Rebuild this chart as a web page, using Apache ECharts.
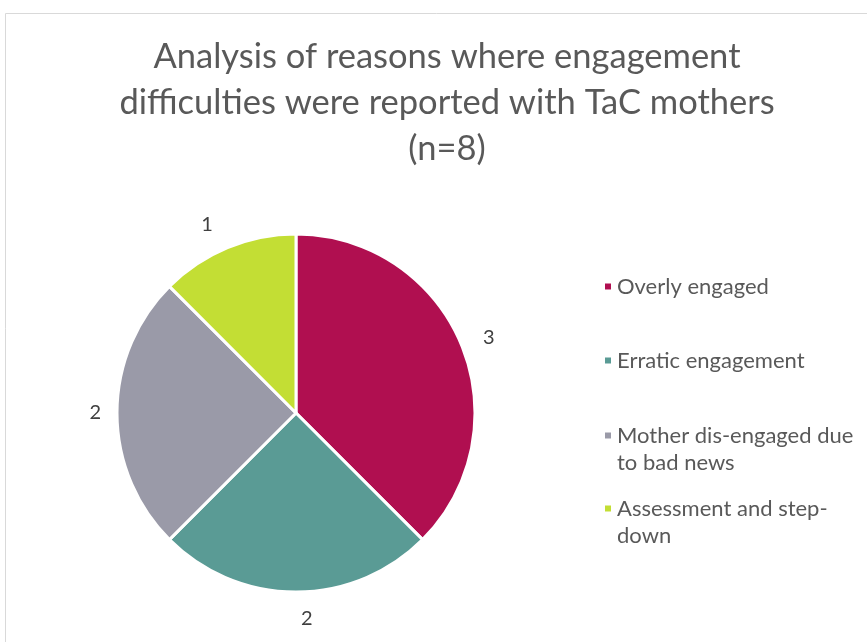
<!DOCTYPE html>
<html>
<head>
<meta charset="utf-8">
<script src="https://cdn.jsdelivr.net/npm/echarts@6/dist/echarts.min.js"></script>
<style>
  html, body { margin: 0; padding: 0; background: #fff; }
  #chart { width: 867px; height: 642px; }
</style>
</head>
<body>
<div id="chart"></div>
<script>
// data
const categories = ['Overly engaged', 'Erratic engagement', 'Mother dis-engaged due to bad news', 'Assessment and step-down'];
const counts = [3, 2, 2, 1];
const colors = ['#B00F50', '#5A9B95', '#9A9AA8', '#C3DE34'];
// legend text as it wraps in the picture
const legendText = ['Overly engaged', 'Erratic engagement', 'Mother dis-engaged due\nto bad news', 'Assessment and step-\ndown'];
const legendTop = [273, 347, 395, 468];
const labelDist = [18, 27, 11, 25];

const fontFamily = 'Lato, "Open Sans", sans-serif';

const chart = echarts.init(document.getElementById('chart'));

// one legend per item so each sits where the picture has it
const legends = categories.map((name, i) => {
  const twoLines = legendText[i].indexOf('\n') >= 0;
  return {
    data: [name],
    orient: 'vertical',
    left: 603,
    top: legendTop[i],
    padding: 0,
    icon: 'rect',
    itemWidth: 8,
    itemHeight: 8,
    itemGap: 0,
    selectedMode: false,
    // an empty first line keeps the square level with the first text line
    formatter: () => (twoLines ? '\n' : '') + legendText[i],
    textStyle: {
      fontFamily: fontFamily,
      fontSize: 22,
      lineHeight: 27,
      color: '#595959'
    }
  };
});

const option = {
  animation: false,
  color: colors,
  title: {
    text: 'Analysis of reasons where engagement\ndifficulties were reported with TaC mothers\n(n=8)',
    left: 447,
    textAlign: 'center',
    top: 34,
    padding: 0,
    textStyle: {
      fontFamily: fontFamily,
      fontSize: 34.5,
      fontWeight: 'normal',
      lineHeight: 46,
      color: '#595959'
    }
  },
  legend: legends,
  graphic: [{
    type: 'rect',
    shape: { x: 5.5, y: 13.5, width: 900, height: 700 },
    style: { fill: 'none', stroke: '#D9D9D9', lineWidth: 1 },
    silent: true
  }],
  series: [{
    type: 'pie',
    center: [296, 413],
    radius: 179,
    startAngle: 90,
    clockwise: true,
    itemStyle: { borderColor: '#fff', borderWidth: 3 },
    label: {
      show: true,
      position: 'outside',
      formatter: '{c}',
      fontFamily: fontFamily,
      fontSize: 20,
      color: '#404040'
    },
    labelLine: { show: false, length: 16, length2: 0 },
    emphasis: { disabled: true },
    data: categories.map((name, i) => ({
      name: name,
      value: counts[i],
      labelLine: { length: labelDist[i] }
    }))
  }]
};

chart.setOption(option);
</script>
</body>
</html>
